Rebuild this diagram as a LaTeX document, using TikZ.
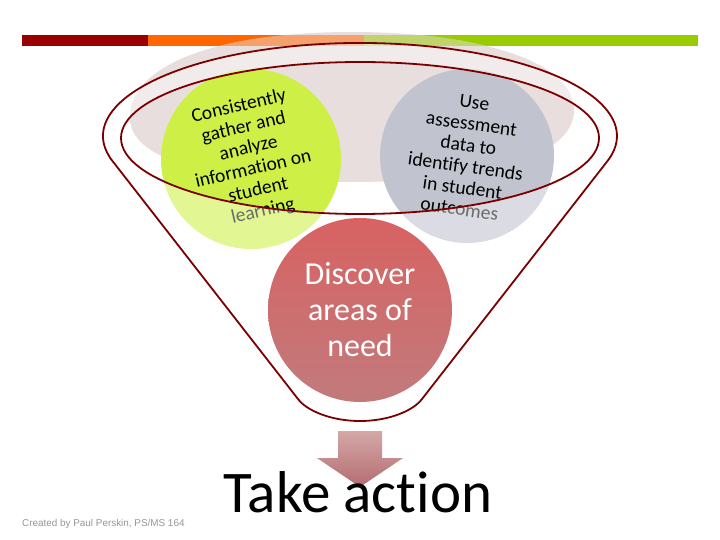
\documentclass[tikz,border=0pt]{standalone}
\usepackage{fontspec}
\setmainfont{Carlito}[Ligatures=NoCommon]
\newfontfamily\footfont{Liberation Sans}
\definecolor{barred}{RGB}{153,0,0}
\definecolor{barorange}{RGB}{255,102,0}
\definecolor{bargreen}{RGB}{153,204,0}
\definecolor{pinkbg}{RGB}{233,222,222}
\definecolor{circgreen}{RGB}{206,240,70}
\definecolor{circgray}{RGB}{193,196,207}
\definecolor{funnelred}{RGB}{122,0,0}
\definecolor{redtop}{RGB}{216,98,98}
\definecolor{redbot}{RGB}{194,122,124}
\definecolor{arrtop}{RGB}{212,168,168}
\definecolor{arrbot}{RGB}{180,108,112}
\definecolor{footgray}{RGB}{150,150,150}
\begin{document}
\begin{tikzpicture}[x=1pt,y=-1pt,
  ball/.style={circle,inner sep=0pt,align=center,font=\fontsize{19.5}{21.5}\selectfont},
  funnelline/.style={draw=funnelred,line width=1.8pt,line join=round}]
\useasboundingbox (0,0) rectangle (720,540);
\fill[white] (0,0) rectangle (720,540);
% top bar
\fill[barred] (22,35) rectangle (148,46);
\fill[barorange] (148,35) rectangle (364,46);
\fill[bargreen] (364,35) rectangle (698,46);
% faint background ellipse
\fill[pinkbg] (130,118) .. controls (130,60) and (230,32) .. (352,32) .. controls (474,32) and (574,60) .. (574,110) .. controls (574,160) and (474,182) .. (352,182) .. controls (230,182) and (130,165) .. (130,118) -- cycle;
\begin{scope}
\clip (130,118) .. controls (130,60) and (230,32) .. (352,32) .. controls (474,32) and (574,60) .. (574,110) .. controls (574,160) and (474,182) .. (352,182) .. controls (230,182) and (130,165) .. (130,118) -- cycle;
\fill[barorange,opacity=.5] (148,35) rectangle (364,46);
\fill[bargreen,opacity=.5] (364,35) rectangle (698,46);
\end{scope}
% circles
\node[ball,fill=circgreen,minimum size=180pt,rotate=13] (gather) at (251,159)
  {Consistently\\gather and\\analyze\\information on\\student\\learning};
\node[ball,fill=circgray,minimum size=174pt,rotate=-8] (use) at (467,156)
  {Use\\assessment\\data to\\identify trends\\in student\\outcomes};
% funnel body overlay
\fill[white,fill opacity=0.42,even odd rule]
  (112.7,161.3) arc[start angle=164.2,end angle=375.8,x radius=257,y radius=93]
  -- (422,399) .. controls (414,410) and (390,421) .. (360,421)
  .. controls (330,421) and (306,410) .. (298,399) -- cycle
  (360,138) ellipse[x radius=239,y radius=76];
% funnel outlines
\draw[funnelline]
  (112.7,161.3) arc[start angle=164.2,end angle=375.8,x radius=257,y radius=93]
  -- (422,399) .. controls (414,410) and (390,421) .. (360,421)
  .. controls (330,421) and (306,410) .. (298,399) -- cycle;
\draw[funnelline] (360,138) ellipse[x radius=239,y radius=76];
% red circle
\node[circle,inner sep=0pt,minimum size=184pt,top color=redtop,bottom color=redbot,
  text=white,align=center,font=\fontsize{32}{36}\selectfont] (discover) at (360,310)
  {Discover\\areas of\\need};
% block arrow
\path[top color=arrtop,bottom color=arrbot]
  (338,431) -- (382,431) -- (382,458) -- (403,458) -- (360,487) -- (317,458) -- (338,458) -- cycle;
% take action
\node[font=\fontsize{59}{70}\selectfont,anchor=base,inner sep=0pt] (take) at (358,512) {Take action};
% footer
\node[font=\footfont\fontsize{9.9}{11}\selectfont,text=footgray,anchor=base west,inner sep=0pt]
  (credit) at (22,526) {Created by Paul Perskin, PS/MS 164};
\end{tikzpicture}
\end{document}
